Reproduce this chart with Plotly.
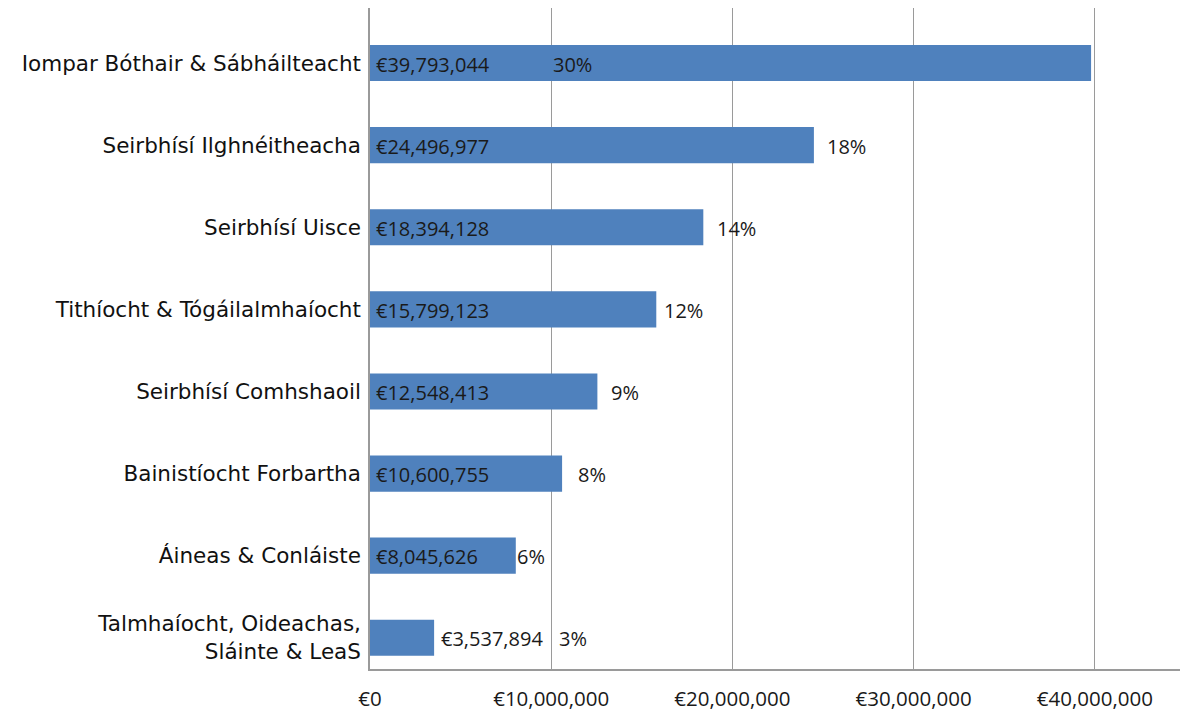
import plotly.graph_objects as go

categories = [
    "Iompar Bóthair & Sábháilteacht",
    "Seirbhísí Ilghnéitheacha",
    "Seirbhísí Uisce",
    "Tithíocht & Tógáilalmhaíocht",
    "Seirbhísí Comhshaoil",
    "Bainistíocht Forbartha",
    "Áineas & Conláiste",
    "Talmhaíocht, Oideachas,<br>Sláinte & LeaS",
]
values = [39793044, 24496977, 18394128, 15799123, 12548413, 10600755, 8045626, 3537894]
percents = ["30%", "18%", "14%", "12%", "9%", "8%", "6%", "3%"]
tick_values = [0, 10000000, 20000000, 30000000, 40000000]
tick_labels = ["€0", "€10,000,000", "€20,000,000", "€30,000,000", "€40,000,000"]

BAR = "#4f81bd"
GRID = "#9a9a9a"
LABEL_FONT = dict(family="Open Sans, Liberation Sans, sans-serif", size=20, color="#1a1a1a")

# pixel gaps between bar end and percent label (as laid out in the original)
pct_gap_px = [None, 11, 12, 6, 12, 14, -1, None]

fig = go.Figure()
fig.add_trace(go.Bar(
    y=categories, x=values, orientation="h",
    marker=dict(color=BAR, line=dict(width=0)),
    hoverinfo="skip",
))

annotations = []
for i, (cat, v, p) in enumerate(zip(categories, values, percents)):
    small = v < 5000000
    annotations.append(dict(
        x=v if small else 0, y=cat, xref="x", yref="y",
        text="€{:,}".format(v), showarrow=False,
        xanchor="left", xshift=5 if small else 4, yshift=-1,
        font=LABEL_FONT,
    ))
    if i == 0:
        annotations.append(dict(
            x=10000000, y=cat, xref="x", yref="y", text=p, showarrow=False,
            xanchor="left", xshift=0, yshift=-1, font=LABEL_FONT,
        ))
    elif small:
        annotations.append(dict(
            x=v, y=cat, xref="x", yref="y", text=p, showarrow=False,
            xanchor="left", xshift=123, yshift=-1, font=LABEL_FONT,
        ))
    else:
        annotations.append(dict(
            x=v, y=cat, xref="x", yref="y", text=p, showarrow=False,
            xanchor="left", xshift=pct_gap_px[i], yshift=-1, font=LABEL_FONT,
        ))

fig.update_layout(
    width=1180, height=713,
    margin=dict(l=370, r=0, t=8, b=44),
    paper_bgcolor="white", plot_bgcolor="white",
    bargap=0.56,
    showlegend=False,
    annotations=annotations,
    xaxis=dict(
        range=[0, 44700000],
        automargin=False,
        tickvals=tick_values, ticktext=tick_labels,
        showgrid=True, gridcolor=GRID, gridwidth=1.3,
        zeroline=False,
        showline=True, linecolor=GRID, linewidth=1.5,
        ticks="", ticklabelstandoff=11,
        tickfont=dict(family="Open Sans, Liberation Sans, sans-serif", size=20.5, color="#1a1a1a"),
    ),
    yaxis=dict(
        range=[7.38, -0.67],
        automargin=False,
        showgrid=False, zeroline=False,
        showline=True, linecolor=GRID, linewidth=1.5,
        ticks="", ticklabelstandoff=3,
        tickfont=dict(family="DejaVu Sans, sans-serif", size=21.5, color="#111111"),
    ),
)

fig.write_html(
    "out.html",
    config={"displayModeBar": False},
    post_script="document.body.style.margin='0';document.body.style.overflow='hidden';",
)
